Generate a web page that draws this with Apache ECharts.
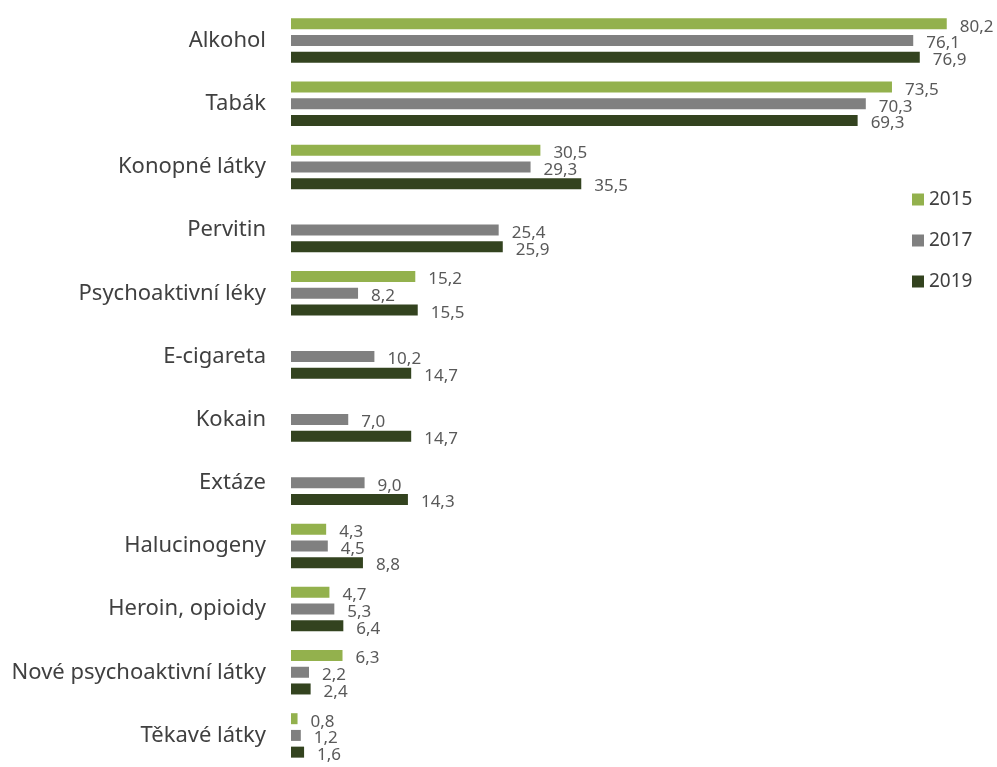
<!DOCTYPE html>
<html><head><meta charset="utf-8">
<script src="https://cdn.jsdelivr.net/npm/echarts@6/dist/echarts.min.js"></script>
<style>html,body{margin:0;padding:0;background:#fff}#c{width:997px;height:767px}</style>
</head><body><div id="c"></div>
<script>
const categories = ["Alkohol","Tabák","Konopné látky","Pervitin","Psychoaktivní léky","E-cigareta","Kokain","Extáze","Halucinogeny","Heroin, opioidy","Nové psychoaktivní látky","Těkavé látky"];
const seriesNames = ["2015","2017","2019"];
const v2015 = [80.2,73.5,30.5,null,15.2,null,null,null,4.3,4.7,6.3,0.8];
const v2017 = [76.1,70.3,29.3,25.4,8.2,10.2,7.0,9.0,4.5,5.3,2.2,1.2];
const v2019 = [76.9,69.3,35.5,25.9,15.5,14.7,14.7,14.3,8.8,6.4,2.4,1.6];
const colors = ["#93B14D","#808080","#33431F"];
const FONT = "'Noto Sans', sans-serif";
const chart = echarts.init(document.getElementById('c'), null, {renderer:'canvas'});
const data = [v2015, v2017, v2019];
chart.setOption({
  animation:false,
  backgroundColor:'#fff',
  grid:{left:291, right:11, top:9, height:761, containLabel:false},
  legend:{orient:'vertical', left:907, top:185, itemWidth:12, itemHeight:12, itemGap:22,
    icon:'rect', textStyle:{fontFamily:FONT, fontSize:19, color:'#404040'}, data:seriesNames},
  xAxis:{type:'value', min:0, max:85, show:false},
  yAxis:{type:'category', data:categories, inverse:true,
    axisLine:{show:false}, axisTick:{show:false},
    axisLabel:{fontFamily:FONT, fontSize:22, color:'#404040', margin:25}},
  series: seriesNames.map((n,i)=>({
    name:n, type:'bar', data:data[i], barWidth:11, barGap:'52%',
    itemStyle:{color:colors[i]},
    label:{show:true, position:'right', distance:13, offset:[0,3],
      fontFamily:FONT, fontSize:17, color:'#595959',
      formatter:p=> p.value==null ? '' : p.value.toFixed(1).replace('.',',')}
  }))
});
</script></body></html>
